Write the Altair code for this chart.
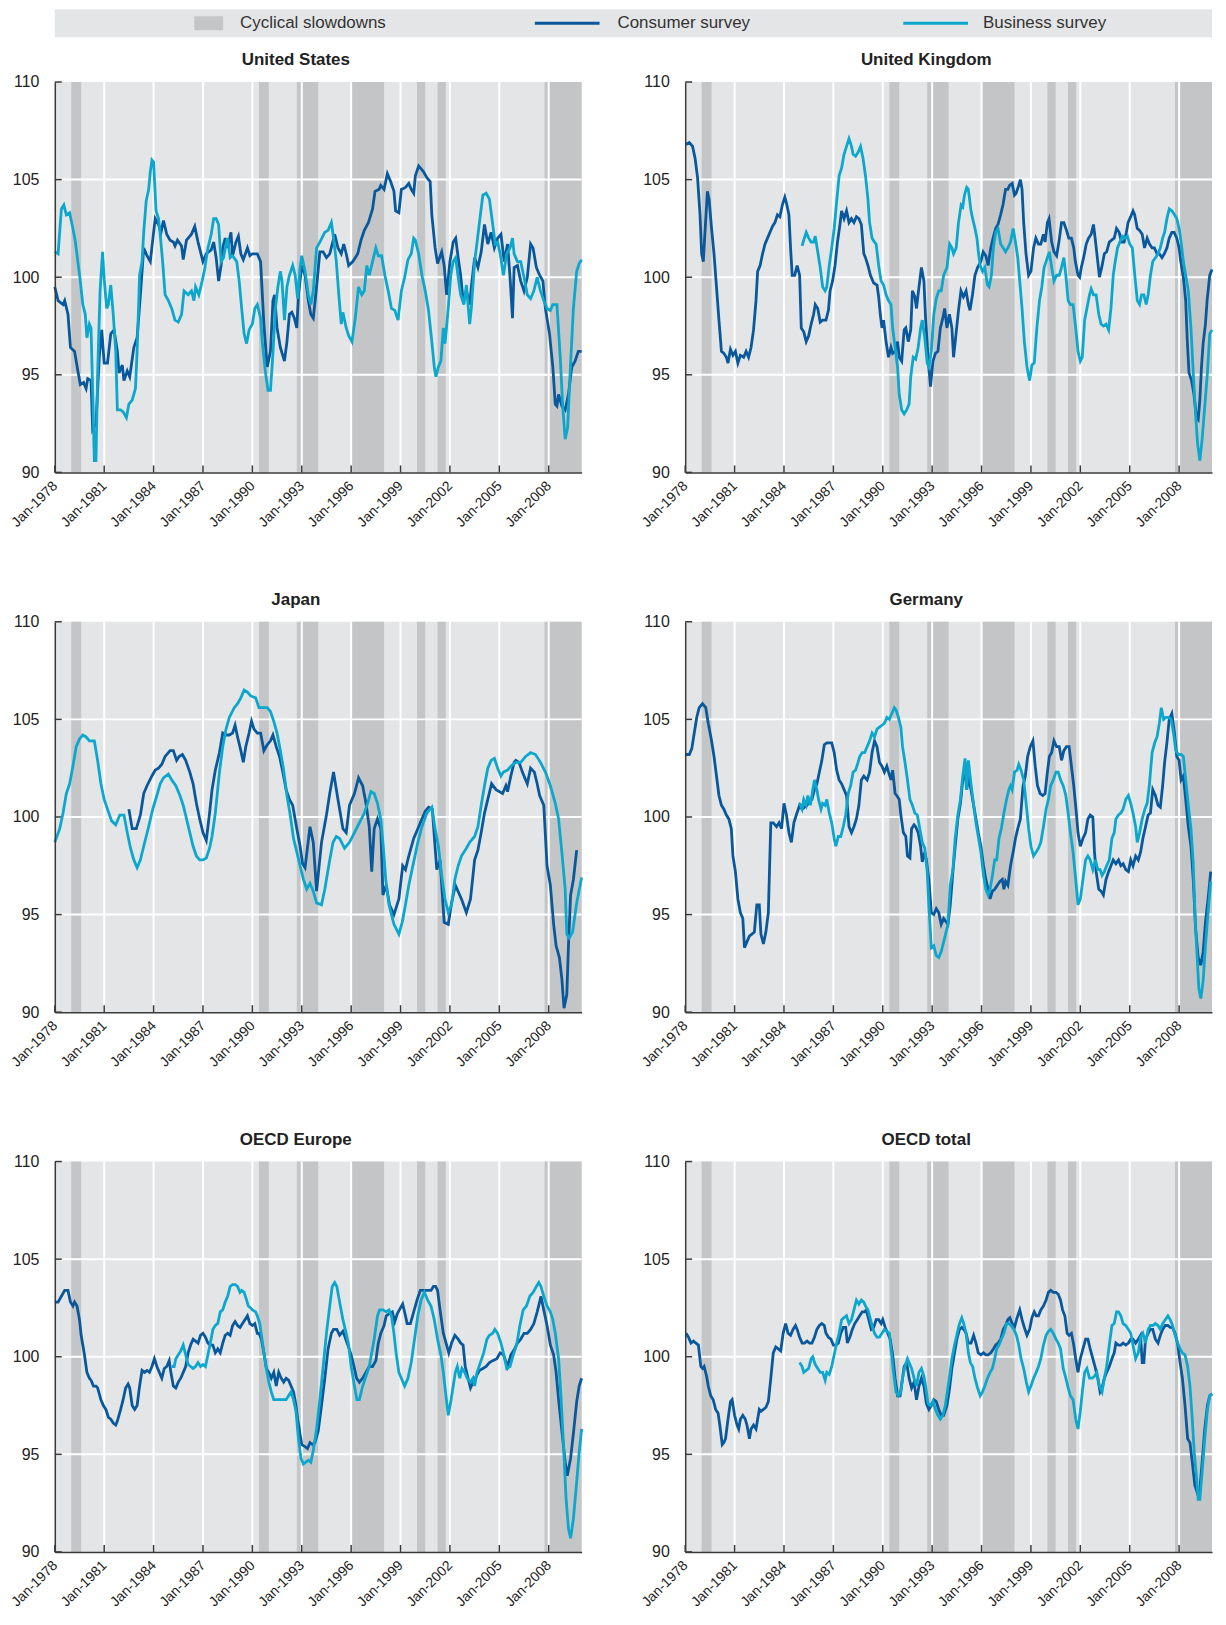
import altair as alt
import pandas as pd

# ---------------- data ----------------
SERIES = ["Consumer survey", "Business survey"]
PANELS = ["United States", "United Kingdom", "Japan", "Germany", "OECD Europe", "OECD total"]
SLOW_START = [1979.0, 1990.4, 1992.7, 1996.05, 2000.0, 2001.25, 2007.75]
SLOW_END = [1979.6, 1991.0, 1994.0, 1998.0, 2000.5, 2001.75, 2010.0]
X_TICKS = [1978, 1981, 1984, 1987, 1990, 1993, 1996, 1999, 2002, 2005, 2008]
Y_TICKS = [90, 95, 100, 105, 110]
Y_GRID = [95, 100, 105]

US_CONS = [(1978.0,99.5),(1978.2,98.8),(1978.5,98.6),(1978.6,98.8),(1978.8,98.1),(1978.95,96.4),(1979.2,96.2),(1979.4,95.2),(1979.55,94.5),(1979.75,94.6),(1979.9,94.3),(1980.0,94.8),(1980.2,94.7),(1980.3,92.2),(1980.5,92.5),(1980.7,95.9),(1980.85,97.3),(1981.0,95.6),(1981.2,95.6),(1981.4,97.1),(1981.6,97.3),(1981.8,96.2),(1981.9,95.1),(1982.1,95.5),(1982.2,94.7),(1982.4,95.2),(1982.55,94.9),(1982.8,96.4),(1983.0,96.9),(1983.2,99.1),(1983.4,101.5),(1983.6,101.1),(1983.8,100.8),(1984.0,102.3),(1984.1,103.0),(1984.3,102.7),(1984.45,102.3),(1984.6,102.9),(1984.8,102.2),(1985.0,101.9),(1985.2,101.8),(1985.3,101.6),(1985.45,101.9),(1985.7,101.6),(1985.8,100.9),(1986.0,101.9),(1986.3,102.2),(1986.5,102.6),(1986.7,101.8),(1987.0,100.8),(1987.2,101.2),(1987.5,101.4),(1987.65,101.8),(1987.8,101.0),(1987.95,99.8),(1988.1,100.6),(1988.2,101.5),(1988.35,102.0),(1988.5,101.5),(1988.7,102.3),(1988.8,101.1),(1989.0,101.8),(1989.15,102.1),(1989.3,101.2),(1989.45,100.9),(1989.7,101.5),(1989.85,101.1),(1990.0,101.2),(1990.3,101.2),(1990.5,100.8),(1990.7,97.6),(1990.9,95.4),(1991.1,96.2),(1991.25,98.8),(1991.35,99.1),(1991.5,97.4),(1991.7,96.4),(1991.95,95.7),(1992.1,96.7),(1992.25,98.1),(1992.4,98.2),(1992.55,97.9),(1992.7,97.4),(1992.8,99.1),(1993.0,100.6),(1993.2,100.1),(1993.4,98.8),(1993.55,98.1),(1993.7,97.9),
           (1993.9,99.5),(1994.1,101.3),(1994.3,101.3),(1994.5,101.0),(1994.7,101.2),(1994.85,101.7),(1995.0,102.2),(1995.2,101.5),(1995.4,101.2),(1995.55,101.7),(1995.7,101.2),(1995.85,100.6),(1996.1,100.8),(1996.4,101.2),(1996.6,101.9),(1996.8,102.4),(1997.05,102.8),(1997.3,103.5),(1997.45,104.4),(1997.7,104.5),(1997.8,104.7),(1998.0,104.5),(1998.2,105.3),(1998.4,104.9),(1998.6,104.4),(1998.7,103.4),(1998.9,103.3),(1999.05,104.5),(1999.3,104.6),(1999.5,104.8),(1999.65,104.5),(1999.8,104.3),(1999.9,105.2),(2000.1,105.7),(2000.4,105.4),(2000.6,105.1),(2000.8,104.9),(2000.9,103.2),(2001.1,101.5),(2001.25,100.7),(2001.5,101.3),(2001.65,100.6),(2001.8,99.1),(2002.0,100.8),(2002.2,101.8),(2002.35,102.0),(2002.5,101.0),(2002.65,100.1),(2002.8,98.8),(2003.0,99.3),(2003.2,98.6),(2003.3,99.5),(2003.5,101.0),(2003.7,100.5),(2003.9,101.3),(2004.1,102.7),(2004.3,101.7),(2004.5,102.3),(2004.7,101.5),(2004.9,102.0),(2005.1,102.2),(2005.3,100.8),(2005.5,101.7),(2005.65,100.0),(2005.8,97.9),(2005.9,100.5),(2006.1,100.6),(2006.3,99.8),(2006.5,99.3),(2006.7,100.0),(2006.9,101.7),(2007.05,101.5),(2007.25,100.5),(2007.45,100.1),(2007.65,99.8),(2007.8,98.4),(2008.05,97.1),(2008.25,95.4),(2008.4,93.5),(2008.5,93.4),(2008.6,94.0),(2008.8,93.4),(2009.0,93.2),(2009.2,94.0),(2009.4,95.4),(2009.6,95.7),(2009.8,96.2),(2010.0,96.2)]

US_BUS = [(1978.0,101.3),(1978.2,101.2),(1978.4,103.5),(1978.55,103.7),(1978.7,103.2),(1978.9,103.3),(1979.1,102.5),(1979.25,101.8),(1979.4,100.8),(1979.55,99.8),(1979.7,98.6),(1979.85,98.1),(1979.95,96.9),(1980.1,97.6),(1980.2,97.4),(1980.3,94.2),(1980.4,90.6),(1980.5,90.6),(1980.6,95.0),(1980.75,99.3),(1980.9,101.3),(1981.0,99.9),(1981.15,98.4),(1981.25,98.6),(1981.4,99.6),(1981.55,98.1),(1981.7,96.2),(1981.8,93.2),(1982.0,93.2),(1982.15,93.1),(1982.35,92.8),(1982.5,93.5),(1982.7,93.7),(1982.9,94.3),(1983.0,96.2),(1983.15,100.1),(1983.3,100.8),(1983.4,102.3),(1983.55,103.9),(1983.7,104.5),(1983.8,105.4),(1983.9,106.0),(1984.0,105.9),(1984.15,103.4),(1984.3,103.0),(1984.4,102.2),(1984.55,100.8),(1984.7,99.1),(1984.9,98.8),(1985.1,98.4),(1985.3,97.8),(1985.5,97.7),(1985.7,98.1),(1985.85,99.3),(1986.1,99.1),(1986.3,99.3),(1986.45,98.8),(1986.55,99.5),(1986.75,99.1),(1986.95,99.8),(1987.1,100.4),(1987.3,101.5),(1987.5,102.2),(1987.65,103.0),(1987.8,103.0),(1987.95,102.7),(1988.1,100.8),(1988.25,101.0),(1988.4,101.7),(1988.5,102.0),(1988.65,101.0),(1988.8,101.1),(1989.05,100.8),(1989.2,99.8),(1989.35,98.4),(1989.5,97.1),(1989.65,96.6),(1989.8,97.3),(1990.0,97.6),(1990.15,98.4),(1990.3,98.6),(1990.5,97.9),(1990.6,96.7),(1990.8,95.1),(1990.95,94.2),(1991.1,94.2),(1991.25,96.1),(1991.4,98.4),(1991.55,99.5),(1991.7,100.3),(1991.8,99.8),(1991.95,97.8),(1992.1,99.5),(1992.25,100.1),(1992.45,100.6),(1992.6,100.1),(1992.75,98.9),(1992.9,100.5),(1993.0,101.1),(1993.2,100.3),(1993.4,99.1),(1993.55,98.6),(1993.7,99.3),
          (1993.9,101.5),(1994.1,101.8),(1994.4,102.3),(1994.6,102.4),(1994.8,102.8),(1994.9,102.2),(1995.1,100.8),(1995.25,99.1),(1995.4,97.6),(1995.5,98.2),(1995.7,97.4),(1995.85,97.0),(1996.05,96.7),(1996.25,97.9),(1996.45,99.5),(1996.65,99.1),(1996.8,99.3),(1996.95,100.6),(1997.1,100.1),(1997.3,100.8),(1997.5,101.5),(1997.65,101.1),(1997.85,101.1),(1998.05,100.1),(1998.25,99.3),(1998.45,98.4),(1998.65,98.3),(1998.85,97.8),(1999.05,99.3),(1999.25,100.0),(1999.45,100.9),(1999.65,101.2),(1999.8,102.0),(1999.9,101.9),(2000.1,101.2),(2000.3,100.1),(2000.5,99.3),(2000.7,98.3),(2000.9,96.7),(2001.05,95.4),(2001.15,94.9),(2001.3,95.4),(2001.45,95.7),(2001.6,97.4),(2001.7,96.6),(2001.9,98.4),(2002.05,100.1),(2002.2,100.8),(2002.35,101.0),(2002.5,100.0),(2002.65,99.1),(2002.85,98.6),(2003.0,99.6),(2003.2,97.6),(2003.3,98.4),(2003.5,100.8),(2003.65,101.8),(2003.85,103.2),(2004.0,104.2),(2004.2,104.3),(2004.4,104.0),(2004.6,102.7),(2004.75,101.7),(2004.9,101.8),(2005.05,101.2),(2005.25,100.1),(2005.45,101.2),(2005.65,101.5),(2005.8,102.0),(2005.9,101.2),(2006.1,100.8),(2006.3,100.8),(2006.5,100.0),(2006.7,99.1),(2006.9,98.9),(2007.1,99.3),(2007.3,100.0),(2007.5,99.3),(2007.7,98.8),(2007.9,98.4),(2008.1,98.3),(2008.25,98.6),(2008.4,98.6),(2008.5,98.6),(2008.7,95.9),(2008.85,93.4),(2009.0,91.7),(2009.15,92.3),(2009.3,95.1),(2009.5,98.4),(2009.7,100.3),(2009.85,100.7),(2010.0,100.9)]

UK_CONS = [(1978.05,106.8),(1978.25,106.9),(1978.45,106.7),(1978.6,106.1),(1978.75,105.1),(1978.9,103.2),(1979.0,101.2),(1979.1,100.8),(1979.2,102.3),(1979.35,104.4),(1979.45,104.0),(1979.6,102.5),(1979.75,101.2),(1979.9,99.5),(1980.05,97.8),(1980.2,96.2),(1980.35,96.1),(1980.5,95.9),(1980.6,95.6),(1980.75,96.3),(1980.9,96.0),(1981.05,96.2),(1981.2,95.6),(1981.35,96.0),(1981.55,95.9),(1981.7,96.2),(1981.85,95.9),(1982.0,96.4),(1982.15,97.3),(1982.3,98.8),(1982.4,100.3),(1982.55,100.6),(1982.7,101.2),(1982.85,101.7),(1983.0,102.0),(1983.15,102.3),(1983.3,102.6),(1983.45,102.8),(1983.6,103.2),(1983.75,103.1),(1983.9,103.7),(1984.05,104.1),(1984.15,103.8),(1984.3,103.2),(1984.4,101.5),(1984.5,100.1),(1984.65,100.1),(1984.8,100.6),(1984.95,100.1),(1985.05,97.4),(1985.2,97.2),(1985.35,96.7),(1985.5,97.0),(1985.65,97.6),(1985.8,98.1),(1985.9,98.6),(1986.05,98.4),(1986.2,97.7),(1986.35,97.8),(1986.55,97.8),(1986.7,98.3),(1986.8,99.3),(1986.95,99.8),(1987.1,100.6),(1987.25,101.8),(1987.4,102.7),(1987.5,103.4),(1987.65,103.0),(1987.8,103.4),(1987.95,102.8),(1988.1,103.0),(1988.25,102.8),(1988.4,103.1),(1988.55,103.0),(1988.7,102.7),(1988.85,101.2),(1988.95,101.0),(1989.1,100.6),(1989.25,100.1),(1989.45,99.7),(1989.65,99.6),(1989.75,99.0),(1989.85,98.1),(1989.95,97.4),(1990.05,97.8),(1990.2,96.7),(1990.35,95.9),(1990.5,96.4),(1990.6,96.1),(1990.75,96.2),(1990.9,96.7),(1991.0,95.9),(1991.15,95.7),(1991.3,97.3),(1991.4,97.4),(1991.55,96.7),(1991.7,97.3),(1991.8,99.3),(1991.95,99.0),(1992.05,98.4),(1992.2,99.5),(1992.35,100.5),(1992.5,99.8),(1992.6,97.9),(1992.75,95.9),(1992.9,94.4),(1993.05,95.7),(1993.2,96.1),(1993.35,96.2),(1993.5,97.4),(1993.65,97.9),
           (1993.76,98.4),(1993.9,97.4),(1994.05,98.1),(1994.2,97.4),(1994.3,95.9),(1994.45,97.1),(1994.6,98.3),(1994.75,99.3),(1994.9,99.0),(1995.06,99.3),(1995.2,98.6),(1995.3,98.3),(1995.45,99.1),(1995.6,100.1),(1995.76,100.5),(1995.96,100.8),(1996.1,101.3),(1996.26,101.1),(1996.4,100.6),(1996.56,101.5),(1996.7,102.0),(1996.86,102.5),(1997.0,102.7),(1997.16,103.2),(1997.3,103.7),(1997.46,104.5),(1997.6,104.5),(1997.7,104.7),(1997.86,104.8),(1998.0,104.2),(1998.1,104.3),(1998.26,104.7),(1998.36,105.0),(1998.46,104.5),(1998.56,102.8),(1998.7,101.2),(1998.86,100.1),(1999.0,100.3),(1999.16,101.5),(1999.3,102.0),(1999.46,101.7),(1999.6,101.7),(1999.76,102.2),(1999.86,101.8),(2000.0,102.8),(2000.1,103.0),(2000.26,101.8),(2000.4,101.3),(2000.56,101.1),(2000.7,101.8),(2000.86,102.8),(2001.0,102.8),(2001.16,102.4),(2001.3,102.0),(2001.46,102.0),(2001.6,101.5),(2001.7,100.8),(2001.86,100.1),(2001.96,100.0),(2002.06,100.5),(2002.2,101.0),(2002.36,101.7),(2002.5,102.0),(2002.66,102.2),(2002.8,102.7),(2002.9,102.0),(2003.06,100.8),(2003.16,100.0),(2003.3,100.5),(2003.46,101.2),(2003.6,101.3),(2003.76,101.8),(2003.9,101.9),(2004.06,102.0),(2004.2,102.5),(2004.36,102.3),(2004.5,101.8),(2004.66,101.8),(2004.8,102.3),(2004.9,102.8),(2005.06,103.1),(2005.2,103.4),(2005.3,103.2),(2005.46,102.5),(2005.6,102.4),(2005.76,102.2),(2005.9,101.5),(2006.06,102.0),(2006.2,101.7),(2006.36,101.5),(2006.5,101.5),(2006.66,101.2),(2006.8,101.2),(2006.96,101.0),(2007.1,101.2),(2007.26,101.5),(2007.4,102.0),(2007.56,102.3),(2007.7,102.3),(2007.86,102.0),(2008.0,101.5),(2008.1,100.8),(2008.26,100.0),(2008.4,98.8),(2008.5,96.7),(2008.6,95.1),(2008.76,94.7),(2008.9,94.0),(2009.06,92.8),(2009.16,92.7),(2009.26,93.7),(2009.36,95.4),(2009.46,96.6),(2009.6,97.6),(2009.7,98.8),(2009.86,100.1),(2010.0,100.4)]

UK_BUS = [(1985.1,101.6),(1985.2,101.9),(1985.35,102.3),(1985.5,102.0),(1985.65,101.8),(1985.8,101.8),(1985.9,102.1),(1986.05,101.3),(1986.2,100.5),(1986.35,99.5),(1986.5,99.3),(1986.6,99.5),(1986.75,100.6),(1986.9,101.5),(1987.05,102.5),(1987.2,103.9),(1987.35,105.2),(1987.5,105.6),(1987.65,106.3),(1987.8,106.7),(1987.95,107.1),(1988.1,106.7),(1988.2,106.3),(1988.35,106.2),(1988.5,106.4),(1988.65,106.7),(1988.8,106.1),(1988.95,105.2),(1989.1,104.0),(1989.2,102.8),(1989.35,102.0),(1989.5,101.8),(1989.6,101.7),(1989.75,100.6),(1989.9,99.8),(1990.05,99.6),(1990.2,99.1),(1990.35,98.8),(1990.5,98.6),(1990.6,97.4),(1990.75,96.4),(1990.9,95.4),(1991.0,94.0),(1991.15,93.2),(1991.3,93.0),(1991.45,93.2),(1991.6,93.5),(1991.7,94.9),(1991.85,95.9),(1992.0,95.8),(1992.15,96.4),(1992.3,97.4),(1992.4,97.8),(1992.55,96.9),(1992.7,95.6),(1992.8,95.4),(1992.95,96.2),(1993.1,98.1),(1993.25,98.9),(1993.4,99.3),(1993.55,99.3),(1993.7,100.1),
          (1993.9,100.5),(1994.06,101.7),(1994.2,101.5),(1994.3,101.2),(1994.46,101.5),(1994.6,102.8),(1994.76,103.7),(1994.86,103.6),(1994.96,104.2),(1995.1,104.6),(1995.2,104.5),(1995.36,103.4),(1995.46,103.0),(1995.6,102.5),(1995.72,102.0),(1995.82,101.2),(1995.92,100.6),(1996.06,100.3),(1996.2,100.5),(1996.36,99.6),(1996.46,99.5),(1996.6,100.1),(1996.72,101.5),(1996.86,102.3),(1997.0,102.5),(1997.16,101.7),(1997.32,101.5),(1997.46,101.3),(1997.6,101.5),(1997.76,101.8),(1997.92,102.5),(1998.06,101.8),(1998.2,101.0),(1998.32,99.8),(1998.46,98.4),(1998.6,96.7),(1998.76,95.4),(1998.92,94.7),(1999.06,95.5),(1999.2,95.6),(1999.36,97.4),(1999.52,98.8),(1999.66,99.5),(1999.8,100.5),(1999.96,100.9),(2000.12,101.3),(2000.26,100.5),(2000.4,99.8),(2000.56,100.1),(2000.72,100.1),(2000.86,100.5),(2001.0,101.0),(2001.12,100.1),(2001.26,98.8),(2001.4,98.6),(2001.56,98.6),(2001.72,97.4),(2001.86,96.2),(2002.0,95.7),(2002.12,95.9),(2002.26,97.8),(2002.4,98.4),(2002.56,99.1),(2002.66,99.4),(2002.8,99.1),(2002.96,99.1),(2003.12,98.1),(2003.26,97.6),(2003.4,97.5),(2003.56,97.6),(2003.72,97.3),(2003.86,98.4),(2004.0,100.1),(2004.12,100.8),(2004.26,101.5),(2004.4,101.8),(2004.56,102.1),(2004.72,102.0),(2004.86,102.1),(2005.0,101.7),(2005.16,101.5),(2005.32,100.0),(2005.46,98.8),(2005.6,98.6),(2005.72,99.1),(2005.86,99.1),(2006.0,98.6),(2006.12,99.1),(2006.26,100.1),(2006.4,100.8),(2006.56,101.0),(2006.72,101.2),(2006.86,101.5),(2007.0,102.0),(2007.12,102.3),(2007.26,103.0),(2007.4,103.5),(2007.56,103.4),(2007.72,103.2),(2007.86,103.0),(2008.0,102.5),(2008.12,101.8),(2008.26,100.8),(2008.4,100.1),(2008.56,99.3),(2008.72,97.4),(2008.86,95.1),(2009.0,93.0),(2009.12,91.5),(2009.26,90.6),(2009.4,91.7),(2009.56,93.4),(2009.72,95.1),(2009.86,97.1),(2010.0,97.3)]

JP_CONS = [(1982.5,100.4),(1982.7,99.4),(1982.95,99.4),(1983.2,100.1),(1983.4,101.2),(1983.6,101.6),(1983.9,102.1),(1984.1,102.4),(1984.3,102.5),(1984.5,102.7),(1984.7,103.1),(1984.9,103.3),(1985.0,103.4),(1985.2,103.4),(1985.4,102.9),(1985.55,103.1),(1985.75,103.2),(1985.95,102.9),(1986.2,102.3),(1986.4,101.7),(1986.6,100.7),(1986.8,99.9),(1987.0,99.2),(1987.2,98.8),(1987.4,100.2),(1987.55,101.4),(1987.75,102.4),(1988.0,103.3),(1988.2,104.3),(1988.4,104.2),(1988.6,104.2),(1988.8,104.3),(1988.95,104.7),(1989.1,104.1),(1989.3,103.4),(1989.45,102.8),(1989.6,103.6),(1989.8,104.3),(1989.95,104.9),(1990.1,104.5),(1990.3,104.3),(1990.5,104.3),(1990.7,103.4),(1990.9,103.7),(1991.1,103.9),(1991.25,104.2),(1991.45,103.6),(1991.65,103.1),(1991.85,102.3),(1992.05,101.4),(1992.25,100.9),(1992.45,100.6),(1992.7,99.4),(1992.9,98.5),(1993.05,97.6),(1993.2,97.4),(1993.5,99.5),(1993.7,98.7),
           (1993.9,96.2),(1994.2,98.7),(1994.5,100.1),(1994.7,101.2),(1994.93,102.3),(1995.2,100.9),(1995.5,99.4),(1995.7,99.2),(1995.9,100.6),(1996.2,101.2),(1996.45,102.0),(1996.7,101.6),(1996.9,100.7),(1997.1,99.5),(1997.25,97.2),(1997.4,99.4),(1997.6,99.9),(1997.8,99.4),(1997.93,96.0),(1998.13,96.5),(1998.33,95.5),(1998.6,95.0),(1998.9,95.8),(1999.13,97.5),(1999.3,97.3),(1999.5,98.0),(1999.8,98.9),(2000.1,99.5),(2000.5,100.3),(2000.7,100.5),(2000.93,100.4),(2001.2,97.3),(2001.4,97.8),(2001.65,94.6),(2001.9,94.5),(2002.1,95.6),(2002.33,96.5),(2002.7,95.8),(2003.0,95.1),(2003.25,95.8),(2003.5,97.8),(2003.7,98.3),(2003.9,99.2),(2004.1,100.2),(2004.3,100.9),(2004.53,101.7),(2004.8,101.4),(2005.0,101.3),(2005.2,101.2),(2005.4,101.6),(2005.5,101.3),(2005.7,102.1),(2005.9,102.8),(2006.0,102.9),(2006.2,102.8),(2006.4,102.3),(2006.7,101.7),(2006.9,102.5),(2007.13,102.3),(2007.3,101.7),(2007.45,101.1),(2007.7,100.6),(2007.9,97.5),(2008.1,96.5),(2008.3,94.5),(2008.45,93.4),(2008.65,92.8),(2008.8,91.7),(2008.93,90.2),(2009.1,90.9),(2009.2,93.4),(2009.33,96.0),(2009.5,96.8),(2009.7,98.3)]

JP_BUS = [(1978.0,98.7),(1978.3,99.4),(1978.5,100.2),(1978.7,101.2),(1978.9,101.7),(1979.1,102.6),(1979.3,103.6),(1979.5,104.0),(1979.7,104.2),(1979.9,104.1),(1980.1,103.9),(1980.4,103.9),(1980.6,102.9),(1980.8,101.7),(1981.0,100.9),(1981.2,100.4),(1981.45,99.8),(1981.7,99.6),(1981.95,100.1),(1982.2,100.1),(1982.4,99.2),(1982.6,98.4),(1982.8,97.8),(1983.0,97.4),(1983.2,97.8),(1983.4,98.5),(1983.7,99.5),(1983.95,100.4),(1984.2,101.1),(1984.4,101.7),(1984.6,102.0),(1984.9,102.2),(1985.1,101.9),(1985.35,101.6),(1985.6,101.1),(1985.8,100.6),(1986.0,99.9),(1986.2,99.2),(1986.4,98.5),(1986.6,98.0),(1986.8,97.8),(1987.0,97.8),(1987.2,97.9),(1987.4,98.4),(1987.55,99.0),(1987.75,100.2),(1988.0,102.3),(1988.2,103.6),(1988.4,104.5),(1988.6,105.1),(1988.9,105.6),(1989.1,105.8),(1989.3,106.1),(1989.5,106.5),(1989.7,106.4),(1989.9,106.2),(1990.2,106.1),(1990.4,105.6),(1990.6,105.6),(1990.9,105.6),(1991.1,105.4),(1991.3,104.9),(1991.5,104.3),(1991.7,103.4),(1991.9,102.4),(1992.1,101.1),(1992.3,100.1),(1992.5,98.9),(1992.7,98.2),(1992.9,97.5),(1993.1,96.8),(1993.3,96.3),(1993.5,96.6),(1993.7,96.2),
          (1993.9,95.6),(1994.2,95.5),(1994.4,96.3),(1994.7,97.8),(1994.9,98.7),(1995.1,99.0),(1995.3,98.9),(1995.6,98.4),(1995.9,98.7),(1996.2,99.2),(1996.5,99.7),(1996.8,100.2),(1997.0,100.7),(1997.2,101.3),(1997.4,101.2),(1997.6,100.7),(1997.8,99.9),(1997.95,98.5),(1998.1,96.8),(1998.3,95.5),(1998.6,94.5),(1998.9,94.0),(1999.1,94.6),(1999.3,95.5),(1999.5,96.5),(1999.8,97.7),(2000.05,98.7),(2000.3,99.5),(2000.6,100.2),(2000.8,100.4),(2000.9,100.5),(2001.1,99.4),(2001.3,98.5),(2001.5,97.0),(2001.7,95.8),(2001.9,95.1),(2002.1,95.5),(2002.3,96.8),(2002.5,97.5),(2002.7,98.0),(2003.0,98.4),(2003.2,98.7),(2003.5,99.0),(2003.7,99.5),(2003.9,100.6),(2004.1,101.6),(2004.3,102.5),(2004.5,102.9),(2004.7,103.0),(2004.9,102.5),(2005.1,102.1),(2005.25,102.3),(2005.5,102.4),(2005.7,102.6),(2006.0,102.8),(2006.3,102.8),(2006.6,103.1),(2006.9,103.3),(2007.2,103.2),(2007.5,102.8),(2007.8,102.3),(2008.1,101.6),(2008.4,100.7),(2008.6,99.9),(2008.8,98.2),(2009.0,96.3),(2009.1,94.0),(2009.25,93.8),(2009.45,94.1),(2009.7,95.6),(2010.0,96.9)]

DE_CONS = [(1978.05,103.2),(1978.25,103.2),(1978.4,103.5),(1978.55,104.3),(1978.7,105.1),(1978.85,105.6),(1979.05,105.8),(1979.25,105.6),(1979.4,104.8),(1979.6,103.9),(1979.75,103.1),(1979.9,102.1),(1980.05,101.1),(1980.2,100.6),(1980.35,100.4),(1980.5,100.1),(1980.65,99.9),(1980.8,99.4),(1980.9,98.0),(1981.05,97.2),(1981.2,95.8),(1981.35,95.1),(1981.5,94.8),(1981.6,93.3),(1981.75,93.6),(1981.9,93.9),(1982.05,94.0),(1982.2,94.1),(1982.35,95.5),(1982.5,95.5),(1982.6,94.0),(1982.75,93.5),(1982.9,94.1),(1983.05,95.1),(1983.2,99.7),(1983.35,99.7),(1983.55,99.5),(1983.7,99.7),(1983.85,99.4),(1984.0,100.7),(1984.15,100.1),(1984.3,99.2),(1984.45,98.7),(1984.6,99.7),(1984.75,100.1),(1984.95,100.6),(1985.1,100.4),(1985.25,100.5),(1985.4,100.6),(1985.55,100.9),(1985.7,100.9),(1985.85,101.4),(1986.0,101.7),(1986.15,102.3),(1986.3,102.9),(1986.45,103.7),(1986.6,103.8),(1986.75,103.8),(1986.9,103.8),(1987.05,103.3),(1987.2,102.4),(1987.35,101.9),(1987.5,101.7),(1987.65,101.4),(1987.8,101.1),(1987.95,99.5),(1988.1,99.2),(1988.25,99.5),(1988.4,99.9),(1988.55,100.6),(1988.7,101.9),(1988.85,102.1),(1989.05,101.9),(1989.2,102.3),(1989.35,103.3),(1989.5,103.9),(1989.65,103.6),(1989.8,102.8),(1989.95,102.6),(1990.1,102.3),(1990.25,102.6),(1990.35,102.3),(1990.5,101.9),(1990.6,102.4),(1990.75,101.2),(1990.85,101.1),(1991.0,100.9),(1991.1,100.1),(1991.25,99.2),(1991.4,99.0),(1991.5,98.0),(1991.65,97.9),(1991.75,99.4),(1991.9,99.6),(1992.0,99.5),(1992.15,99.2),(1992.3,98.5),(1992.4,97.7),(1992.55,98.2),(1992.65,97.8),(1992.8,96.8),(1992.95,95.1),(1993.1,95.0),(1993.25,95.3),(1993.4,95.1),(1993.55,94.5),(1993.7,94.8),
           (1993.96,94.5),(1994.1,95.5),(1994.26,97.2),(1994.4,98.5),(1994.56,99.9),(1994.72,100.7),(1994.86,101.9),(1995.0,102.3),(1995.1,101.4),(1995.2,102.1),(1995.36,101.4),(1995.52,100.6),(1995.66,99.9),(1995.8,99.2),(1995.96,98.5),(1996.12,97.5),(1996.26,96.8),(1996.4,96.3),(1996.52,95.8),(1996.66,96.2),(1996.8,96.3),(1996.96,96.5),(1997.12,96.7),(1997.26,96.8),(1997.36,96.3),(1997.46,96.7),(1997.6,96.5),(1997.76,97.5),(1997.92,98.2),(1998.06,98.9),(1998.2,99.4),(1998.36,99.9),(1998.52,101.6),(1998.66,102.1),(1998.8,103.1),(1998.96,103.6),(1999.12,103.9),(1999.26,102.6),(1999.4,101.6),(1999.56,101.2),(1999.72,101.1),(1999.86,101.2),(2000.0,102.3),(2000.12,103.1),(2000.26,103.3),(2000.4,103.9),(2000.56,103.6),(2000.72,103.6),(2000.86,102.9),(2001.0,103.4),(2001.16,103.6),(2001.32,103.6),(2001.46,102.6),(2001.6,101.6),(2001.76,100.2),(2001.86,99.2),(2002.0,98.5),(2002.16,98.9),(2002.32,99.2),(2002.46,99.9),(2002.6,100.1),(2002.76,100.0),(2002.86,98.2),(2002.96,97.2),(2003.12,96.3),(2003.26,96.2),(2003.4,96.0),(2003.56,96.8),(2003.72,97.2),(2003.86,97.5),(2004.0,97.8),(2004.16,97.6),(2004.32,97.8),(2004.46,97.5),(2004.6,97.6),(2004.76,97.3),(2004.92,97.2),(2005.06,97.8),(2005.2,97.5),(2005.36,98.0),(2005.52,97.8),(2005.66,98.2),(2005.8,98.9),(2005.96,99.5),(2006.12,100.1),(2006.26,100.2),(2006.4,101.4),(2006.56,101.1),(2006.72,100.6),(2006.86,100.5),(2007.0,101.6),(2007.12,102.8),(2007.26,103.8),(2007.4,105.0),(2007.56,105.3),(2007.72,104.3),(2007.86,103.1),(2008.0,102.9),(2008.12,101.9),(2008.26,102.1),(2008.4,100.9),(2008.56,99.5),(2008.72,98.5),(2008.86,96.8),(2009.0,94.3),(2009.16,92.8),(2009.32,92.4),(2009.46,93.1),(2009.6,94.6),(2009.76,95.8),(2009.92,97.2)]

DE_BUS = [(1984.95,100.7),(1985.1,100.4),(1985.2,100.9),(1985.35,100.6),(1985.45,101.1),(1985.6,100.6),(1985.75,101.4),(1985.85,101.9),(1986.0,101.4),(1986.1,100.9),(1986.25,100.4),(1986.35,100.7),(1986.5,100.6),(1986.6,100.9),(1986.75,100.2),(1986.9,99.7),(1987.05,98.9),(1987.15,98.5),(1987.3,99.0),(1987.45,99.0),(1987.6,99.5),(1987.75,100.1),(1987.9,101.2),(1988.05,101.6),(1988.2,102.3),(1988.35,102.4),(1988.5,102.8),(1988.6,103.1),(1988.75,103.3),(1988.9,103.3),(1989.05,103.6),(1989.2,103.9),(1989.35,104.3),(1989.5,104.1),(1989.65,104.5),(1989.8,104.6),(1989.95,104.7),(1990.1,104.8),(1990.25,105.1),(1990.4,105.0),(1990.55,105.3),(1990.7,105.6),(1990.8,105.5),(1990.95,105.1),(1991.1,104.6),(1991.2,103.6),(1991.35,102.8),(1991.5,101.9),(1991.65,100.9),(1991.8,100.6),(1991.95,100.2),(1992.1,100.1),(1992.25,99.4),(1992.4,98.7),(1992.55,98.4),(1992.7,97.2),(1992.8,95.5),(1992.95,93.3),(1993.1,93.4),(1993.25,92.9),(1993.4,92.8),(1993.55,93.1),(1993.7,93.6),
          (1993.96,94.5),(1994.1,96.5),(1994.26,97.3),(1994.4,98.9),(1994.56,100.1),(1994.72,100.9),(1994.86,102.1),(1995.0,103.0),(1995.1,101.4),(1995.2,102.9),(1995.36,101.7),(1995.52,100.6),(1995.66,99.7),(1995.8,99.0),(1995.96,98.2),(1996.12,97.0),(1996.26,96.3),(1996.4,96.0),(1996.52,96.3),(1996.66,97.0),(1996.8,97.8),(1996.92,97.8),(1997.06,98.9),(1997.2,99.4),(1997.36,100.2),(1997.52,100.9),(1997.66,101.4),(1997.76,101.6),(1997.86,101.4),(1998.0,102.3),(1998.16,102.4),(1998.26,102.7),(1998.4,102.4),(1998.56,101.9),(1998.72,100.6),(1998.86,99.4),(1999.0,98.5),(1999.16,98.0),(1999.32,98.2),(1999.46,98.4),(1999.6,98.7),(1999.76,99.5),(1999.92,100.4),(2000.06,100.9),(2000.2,101.6),(2000.36,101.9),(2000.52,102.3),(2000.66,102.3),(2000.8,101.9),(2000.96,101.6),(2001.12,101.1),(2001.26,100.2),(2001.4,99.2),(2001.56,98.2),(2001.72,96.8),(2001.86,95.5),(2002.0,95.8),(2002.16,96.8),(2002.32,97.8),(2002.46,98.0),(2002.6,97.8),(2002.76,97.3),(2002.92,97.8),(2003.06,97.3),(2003.2,97.3),(2003.32,97.0),(2003.46,97.2),(2003.6,97.5),(2003.76,97.8),(2003.92,98.9),(2004.06,99.2),(2004.16,99.9),(2004.32,100.1),(2004.46,100.2),(2004.6,100.4),(2004.76,100.9),(2004.92,101.1),(2005.06,100.7),(2005.2,100.2),(2005.36,99.5),(2005.46,98.7),(2005.6,99.2),(2005.76,99.9),(2005.92,100.4),(2006.06,100.7),(2006.2,101.7),(2006.36,103.3),(2006.52,103.8),(2006.66,104.1),(2006.8,104.8),(2006.92,105.6),(2007.06,105.0),(2007.2,105.1),(2007.36,105.1),(2007.52,105.0),(2007.66,104.3),(2007.8,103.4),(2007.96,103.2),(2008.12,103.2),(2008.26,103.1),(2008.4,101.9),(2008.56,100.6),(2008.72,99.4),(2008.86,97.6),(2008.96,95.1),(2009.06,93.4),(2009.2,91.2),(2009.32,90.7),(2009.46,91.6),(2009.6,93.4),(2009.76,95.1),(2009.92,96.7)]

EU_CONS = [(1978.0,102.8),(1978.2,102.8),(1978.4,103.1),(1978.6,103.4),(1978.8,103.4),(1978.95,102.8),(1979.1,102.6),(1979.2,102.8),(1979.35,102.6),(1979.5,101.9),(1979.6,101.1),(1979.8,100.1),(1979.95,99.2),(1980.1,98.9),(1980.2,98.8),(1980.35,98.5),(1980.5,98.5),(1980.6,98.4),(1980.8,97.8),(1980.95,97.5),(1981.1,97.3),(1981.25,96.9),(1981.4,96.8),(1981.55,96.6),(1981.7,96.5),(1981.8,96.7),(1982.0,97.3),(1982.15,97.8),(1982.3,98.4),(1982.45,98.6),(1982.55,98.4),(1982.7,97.5),(1982.85,97.3),(1983.0,97.5),(1983.15,98.5),(1983.3,99.3),(1983.45,99.2),(1983.6,99.3),(1983.75,99.2),(1983.9,99.5),(1984.05,99.9),(1984.2,99.5),(1984.35,99.2),(1984.5,98.9),(1984.65,99.4),(1984.8,99.5),(1984.95,99.8),(1985.05,99.2),(1985.2,98.5),(1985.35,98.4),(1985.5,98.7),(1985.65,98.9),(1985.8,99.2),(1985.95,99.5),(1986.1,100.2),(1986.25,100.6),(1986.4,100.9),(1986.55,100.8),(1986.7,100.7),(1986.85,101.1),(1987.0,101.2),(1987.15,101.0),(1987.3,100.7),(1987.45,100.6),(1987.6,100.6),(1987.75,100.2),(1987.9,100.4),(1988.05,100.2),(1988.2,100.7),(1988.35,101.1),(1988.5,101.2),(1988.65,101.1),(1988.8,101.6),(1988.95,101.8),(1989.1,101.6),(1989.25,101.5),(1989.4,101.7),(1989.55,101.9),(1989.7,102.1),(1989.85,101.7),(1990.0,101.6),(1990.15,101.7),(1990.3,101.2),(1990.4,101.2),(1990.55,100.9),(1990.7,100.2),(1990.85,99.4),(1991.0,99.2),(1991.15,98.9),(1991.3,99.2),(1991.45,98.5),(1991.6,99.2),(1991.75,98.9),(1991.9,98.7),(1992.05,98.9),(1992.2,98.8),(1992.35,98.5),(1992.5,98.2),(1992.65,97.5),(1992.75,96.8),(1992.9,96.0),(1993.0,95.5),(1993.2,95.4),(1993.35,95.3),(1993.5,95.6),(1993.65,95.5),
           (1993.8,95.6),(1994.0,96.2),(1994.2,97.5),(1994.4,98.9),(1994.6,100.4),(1994.8,101.2),(1994.93,101.4),(1995.13,101.4),(1995.3,101.1),(1995.5,101.3),(1995.8,100.6),(1996.0,100.1),(1996.2,99.4),(1996.33,98.9),(1996.5,98.7),(1996.7,98.9),(1996.9,99.2),(1997.1,99.5),(1997.3,99.5),(1997.5,99.8),(1997.65,100.7),(1997.8,101.2),(1998.0,101.6),(1998.13,102.1),(1998.3,102.2),(1998.5,102.3),(1998.65,101.8),(1998.8,102.2),(1998.93,102.4),(1999.13,102.7),(1999.3,102.1),(1999.4,101.7),(1999.6,101.7),(1999.8,102.3),(2000.0,102.9),(2000.2,103.4),(2000.4,103.4),(2000.6,103.4),(2000.73,103.4),(2000.85,103.4),(2001.0,103.6),(2001.13,103.6),(2001.25,103.4),(2001.4,102.4),(2001.6,101.2),(2001.8,100.6),(2001.93,100.2),(2002.1,100.7),(2002.3,101.1),(2002.5,100.9),(2002.65,100.7),(2002.8,100.6),(2002.93,99.5),(2003.1,98.9),(2003.25,98.4),(2003.4,98.7),(2003.6,99.0),(2003.8,99.3),(2004.0,99.4),(2004.2,99.5),(2004.4,99.7),(2004.6,99.8),(2004.85,99.9),(2005.05,100.2),(2005.25,100.1),(2005.5,99.5),(2005.7,100.1),(2005.93,100.4),(2006.1,100.7),(2006.3,100.9),(2006.5,101.2),(2006.7,101.2),(2006.9,101.4),(2007.1,101.7),(2007.3,102.3),(2007.53,103.1),(2007.7,102.4),(2007.9,101.6),(2008.1,100.6),(2008.3,100.1),(2008.45,99.2),(2008.6,97.8),(2008.8,96.2),(2009.0,94.6),(2009.13,93.9),(2009.33,94.8),(2009.53,96.3),(2009.7,97.7),(2009.85,98.5),(2010.0,98.9)]

EU_BUS = [(1985.1,99.5),(1985.25,99.5),(1985.35,99.9),(1985.5,100.1),(1985.65,100.3),(1985.8,100.6),(1985.95,100.1),(1986.1,99.6),(1986.25,99.5),(1986.4,99.4),(1986.55,99.5),(1986.7,99.7),(1986.85,99.5),(1987.0,99.6),(1987.15,99.5),(1987.3,100.1),(1987.45,100.7),(1987.6,101.4),(1987.75,101.6),(1987.9,101.7),(1988.05,102.3),(1988.2,102.4),(1988.35,102.8),(1988.5,103.1),(1988.65,103.6),(1988.8,103.7),(1988.95,103.7),(1989.1,103.6),(1989.25,103.3),(1989.35,103.4),(1989.5,103.3),(1989.65,102.9),(1989.75,102.6),(1989.9,102.5),(1990.0,102.4),(1990.2,102.3),(1990.3,102.1),(1990.45,101.7),(1990.55,101.1),(1990.7,100.2),(1990.85,99.4),(1991.0,98.7),(1991.15,98.2),(1991.3,97.8),(1991.45,97.8),(1991.6,97.8),(1991.75,97.8),(1991.9,97.8),(1992.05,97.8),(1992.2,98.0),(1992.35,98.2),(1992.5,97.8),(1992.65,97.2),(1992.8,95.8),(1992.95,94.8),(1993.1,94.5),(1993.25,94.6),(1993.4,94.7),(1993.55,94.6),(1993.7,95.2),
          (1993.9,96.3),(1994.1,97.8),(1994.3,99.5),(1994.5,101.2),(1994.7,102.6),(1994.85,103.6),(1995.0,103.8),(1995.13,103.6),(1995.3,102.8),(1995.5,101.9),(1995.7,101.2),(1995.85,100.6),(1996.0,99.5),(1996.2,98.5),(1996.35,97.8),(1996.5,97.8),(1996.7,98.5),(1996.9,99.0),(1997.1,99.5),(1997.25,100.2),(1997.4,100.9),(1997.6,102.1),(1997.73,102.4),(1997.93,102.4),(1998.13,102.3),(1998.3,102.4),(1998.45,102.1),(1998.6,101.2),(1998.73,100.2),(1998.9,99.2),(1999.05,98.9),(1999.25,98.5),(1999.45,98.9),(1999.65,99.7),(1999.85,100.9),(2000.05,102.1),(2000.25,102.9),(2000.45,103.3),(2000.65,102.9),(2000.85,102.6),(2001.05,101.9),(2001.25,100.9),(2001.45,100.1),(2001.6,99.2),(2001.73,98.2),(2001.9,97.0),(2002.05,97.7),(2002.2,98.5),(2002.33,99.2),(2002.45,99.5),(2002.6,98.9),(2002.73,99.4),(2002.9,99.2),(2003.05,98.9),(2003.25,98.7),(2003.4,98.9),(2003.5,98.5),(2003.65,99.2),(2003.85,99.7),(2004.05,100.2),(2004.25,100.9),(2004.4,101.1),(2004.6,101.2),(2004.73,101.4),(2004.9,101.2),(2005.1,100.7),(2005.25,100.2),(2005.45,99.4),(2005.65,99.5),(2005.85,100.1),(2006.05,100.6),(2006.25,101.6),(2006.45,102.4),(2006.65,102.6),(2006.85,103.1),(2007.05,103.3),(2007.25,103.6),(2007.4,103.8),(2007.53,103.6),(2007.7,103.1),(2007.9,102.6),(2008.1,102.3),(2008.25,101.9),(2008.4,101.2),(2008.6,99.9),(2008.73,98.2),(2008.9,95.5),(2009.05,92.8),(2009.2,91.2),(2009.33,90.7),(2009.5,91.7),(2009.7,93.6),(2009.85,95.1),(2010.0,96.3)]

TOT_CONS = [(1978.05,101.2),(1978.2,101.0),(1978.35,100.7),(1978.5,100.8),(1978.65,100.7),(1978.8,100.6),(1978.95,99.5),(1979.05,99.4),(1979.15,99.5),(1979.3,99.0),(1979.4,98.5),(1979.55,98.0),(1979.7,97.8),(1979.85,97.3),(1980.0,97.1),(1980.1,96.5),(1980.25,95.5),(1980.35,95.6),(1980.45,95.8),(1980.6,96.8),(1980.75,97.7),(1980.85,97.8),(1981.0,97.0),(1981.15,96.5),(1981.25,96.3),(1981.35,96.8),(1981.5,97.0),(1981.65,96.8),(1981.75,96.5),(1981.9,95.8),(1982.0,96.3),(1982.15,96.5),(1982.3,96.3),(1982.4,96.8),(1982.5,97.3),(1982.6,97.2),(1982.75,97.3),(1982.9,97.4),(1983.05,97.7),(1983.2,98.9),(1983.35,100.2),(1983.5,100.5),(1983.65,100.4),(1983.8,100.3),(1983.95,101.2),(1984.1,101.7),(1984.25,101.2),(1984.4,101.1),(1984.55,101.4),(1984.7,101.6),(1984.8,101.4),(1984.95,101.0),(1985.1,100.7),(1985.25,100.7),(1985.4,100.8),(1985.55,100.7),(1985.7,100.7),(1985.85,101.0),(1986.0,101.4),(1986.15,101.6),(1986.3,101.7),(1986.45,101.6),(1986.55,101.2),(1986.7,101.0),(1986.85,100.9),(1987.0,100.6),(1987.15,100.6),(1987.3,100.7),(1987.45,101.2),(1987.6,101.5),(1987.75,101.5),(1987.85,100.7),(1988.0,101.0),(1988.15,101.4),(1988.3,101.7),(1988.45,101.9),(1988.6,102.1),(1988.75,102.3),(1988.9,102.3),(1989.0,102.4),(1989.15,101.9),(1989.3,101.4),(1989.45,101.5),(1989.6,101.9),(1989.75,101.9),(1989.9,101.7),(1990.0,101.9),(1990.15,101.5),(1990.3,101.2),(1990.45,100.9),(1990.6,100.1),(1990.75,98.9),(1990.9,98.0),(1991.05,98.0),(1991.2,98.9),(1991.3,99.5),(1991.45,99.7),(1991.6,98.9),(1991.75,98.4),(1991.9,98.7),(1992.05,97.8),(1992.2,98.5),(1992.35,98.9),(1992.5,98.5),(1992.65,97.6),(1992.8,97.3),(1992.95,97.5),(1993.1,97.8),(1993.25,97.7),(1993.4,97.3),(1993.55,97.0),(1993.7,97.0),
            (1993.9,97.5),(1994.06,98.4),(1994.2,99.4),(1994.36,100.2),(1994.5,100.9),(1994.66,101.4),(1994.8,101.5),(1994.92,101.4),(1995.06,101.2),(1995.2,100.7),(1995.36,100.7),(1995.52,101.1),(1995.66,100.7),(1995.8,100.2),(1995.96,100.1),(1996.12,100.2),(1996.26,100.1),(1996.4,100.1),(1996.56,100.2),(1996.72,100.4),(1996.86,100.6),(1997.0,100.7),(1997.16,100.9),(1997.32,101.4),(1997.46,101.6),(1997.6,101.9),(1997.72,102.0),(1997.86,101.7),(1998.0,101.5),(1998.16,102.0),(1998.32,102.4),(1998.46,101.9),(1998.6,101.5),(1998.76,101.1),(1998.92,101.4),(1999.06,102.0),(1999.2,102.3),(1999.32,102.1),(1999.46,102.1),(1999.6,102.4),(1999.76,102.6),(1999.92,102.9),(2000.06,103.3),(2000.2,103.4),(2000.36,103.3),(2000.52,103.3),(2000.66,103.2),(2000.8,102.9),(2000.92,102.4),(2001.06,102.1),(2001.2,101.2),(2001.32,101.1),(2001.46,101.2),(2001.6,100.6),(2001.72,99.9),(2001.86,99.2),(2002.0,99.9),(2002.16,100.4),(2002.32,100.9),(2002.46,100.9),(2002.6,100.4),(2002.76,99.9),(2002.92,99.4),(2003.06,98.9),(2003.2,98.2),(2003.32,98.4),(2003.46,98.9),(2003.6,99.2),(2003.76,99.5),(2003.92,99.9),(2004.06,100.2),(2004.16,100.7),(2004.32,100.6),(2004.46,100.6),(2004.6,100.7),(2004.76,100.6),(2004.92,100.7),(2005.06,100.9),(2005.2,100.9),(2005.36,100.7),(2005.52,100.9),(2005.66,101.1),(2005.76,99.7),(2005.86,99.7),(2005.96,100.9),(2006.12,101.2),(2006.26,101.4),(2006.4,101.4),(2006.56,100.9),(2006.72,100.7),(2006.86,101.1),(2007.0,101.4),(2007.16,101.6),(2007.32,101.6),(2007.46,101.5),(2007.6,101.5),(2007.76,101.2),(2007.92,100.6),(2008.06,99.7),(2008.2,98.9),(2008.36,97.5),(2008.52,95.8),(2008.66,95.6),(2008.8,94.6),(2008.96,93.4),(2009.12,93.0),(2009.26,93.2),(2009.4,94.6),(2009.56,96.3),(2009.72,97.5),(2009.86,98.0),(2010.0,98.1)]

TOT_BUS = [(1984.95,99.7),(1985.1,99.5),(1985.2,99.2),(1985.35,99.3),(1985.5,99.4),(1985.65,99.9),(1985.75,100.0),(1985.9,99.6),(1986.05,99.4),(1986.2,99.2),(1986.35,99.2),(1986.5,98.8),(1986.6,99.2),(1986.75,99.1),(1986.9,99.5),(1987.05,100.1),(1987.2,100.7),(1987.35,101.2),(1987.5,101.9),(1987.65,102.0),(1987.8,102.1),(1987.95,101.7),(1988.1,101.9),(1988.25,102.4),(1988.4,102.9),(1988.55,102.7),(1988.7,102.9),(1988.85,102.8),(1988.95,102.6),(1989.1,102.4),(1989.2,102.1),(1989.35,101.6),(1989.5,101.2),(1989.65,101.0),(1989.8,101.0),(1989.95,101.2),(1990.1,101.4),(1990.25,101.3),(1990.4,101.2),(1990.5,100.4),(1990.65,99.2),(1990.8,98.2),(1990.95,98.0),(1991.1,98.2),(1991.2,98.9),(1991.35,99.5),(1991.5,99.9),(1991.6,99.7),(1991.75,99.4),(1991.9,98.9),(1992.05,98.5),(1992.2,99.2),(1992.35,99.4),(1992.5,99.0),(1992.6,98.5),(1992.75,97.6),(1992.9,97.5),(1993.05,97.7),(1993.2,97.3),(1993.35,97.0),(1993.5,96.8),(1993.65,97.0),
           (1993.8,97.5),(1993.92,98.2),(1994.06,99.0),(1994.2,99.9),(1994.36,100.6),(1994.52,101.2),(1994.66,101.7),(1994.8,102.0),(1994.92,101.7),(1995.06,101.2),(1995.2,100.2),(1995.32,99.7),(1995.46,99.5),(1995.6,98.9),(1995.76,98.4),(1995.92,98.0),(1996.06,98.2),(1996.2,98.5),(1996.36,98.9),(1996.52,99.2),(1996.66,99.4),(1996.8,99.9),(1996.92,100.4),(1997.06,100.6),(1997.2,100.9),(1997.36,101.2),(1997.52,101.7),(1997.66,101.7),(1997.8,101.6),(1997.96,101.4),(1998.12,101.1),(1998.26,100.6),(1998.4,99.9),(1998.56,99.4),(1998.72,98.7),(1998.86,98.2),(1999.0,98.5),(1999.16,98.9),(1999.32,99.2),(1999.46,99.5),(1999.6,99.9),(1999.76,100.6),(1999.92,101.1),(2000.06,101.3),(2000.2,101.4),(2000.36,101.2),(2000.52,100.9),(2000.66,100.7),(2000.8,100.4),(2000.96,99.4),(2001.12,98.9),(2001.26,98.4),(2001.4,98.0),(2001.56,97.8),(2001.72,96.8),(2001.86,96.3),(2002.0,97.2),(2002.12,98.2),(2002.26,99.2),(2002.4,99.4),(2002.56,98.9),(2002.72,98.9),(2002.86,99.0),(2003.0,99.2),(2003.16,98.5),(2003.32,98.2),(2003.46,98.9),(2003.6,99.5),(2003.76,100.6),(2003.92,101.6),(2004.06,101.7),(2004.2,102.3),(2004.32,102.3),(2004.46,102.1),(2004.6,101.7),(2004.76,101.6),(2004.92,101.4),(2005.06,101.2),(2005.2,100.6),(2005.36,99.9),(2005.52,100.2),(2005.66,101.0),(2005.8,101.2),(2005.96,100.7),(2006.12,101.4),(2006.26,101.6),(2006.4,101.6),(2006.56,101.7),(2006.72,101.6),(2006.86,101.4),(2007.0,101.7),(2007.16,101.9),(2007.32,102.1),(2007.46,101.9),(2007.6,101.6),(2007.76,101.1),(2007.92,100.7),(2008.06,100.4),(2008.2,100.2),(2008.36,100.1),(2008.52,99.5),(2008.66,98.5),(2008.8,96.8),(2008.92,95.1),(2009.06,93.8),(2009.16,92.7),(2009.26,92.7),(2009.4,94.1),(2009.56,95.8),(2009.72,97.3),(2009.86,98.0),(2010.0,98.1)]

DATA = {
    "United States": (US_CONS, US_BUS),
    "United Kingdom": (UK_CONS, UK_BUS),
    "Japan": (JP_CONS, JP_BUS),
    "Germany": (DE_CONS, DE_BUS),
    "OECD Europe": (EU_CONS, EU_BUS),
    "OECD total": (TOT_CONS, TOT_BUS),
}

# ---------------- style ----------------
FONT = "Liberation Sans"
W, H = 529, 392
COL_GAP, ROW_GAP = 104, 150
BG = "#e4e5e7"
BAND = "#c4c5c7"
DARK = "#08589b"
CYAN = "#0ba7cc"
AXIS = "#3a3a3a"
TXT = "#222222"

XS = alt.Scale(domain=[1978, 2010], nice=False, zero=False)
YS = alt.Scale(domain=[90, 110], nice=False, zero=False)
XAX = alt.Axis(values=X_TICKS, labelExpr="'Jan-' + datum.value", labelAngle=-45,
               labelAlign="right", labelBaseline="middle", labelPadding=11,
               ticks=False, grid=False, domain=True, zindex=1, labelOverlap=False,
               labelFont=FONT, labelFontSize=14, labelColor=TXT, title=None)
YAX = alt.Axis(values=Y_TICKS, ticks=False, grid=False, domain=True, labelPadding=16, zindex=1,
               labelFont=FONT, labelFontSize=16, labelColor=TXT, title=None)


def xe(field):
    return alt.X(field, scale=XS, axis=XAX, title=None)


def ye(field):
    return alt.Y(field, scale=YS, axis=YAX, title=None)


def one_row():
    return pd.DataFrame({"k": [0]})


def panel(name, with_legend=False):
    cons, bus = DATA[name]
    bands = alt.Chart(pd.DataFrame({"s": SLOW_START, "e": SLOW_END})).mark_rect(color=BAND).encode(
        x=xe("s:Q"), x2="e:Q", y=alt.value(0), y2=alt.value(H))
    vgrid = alt.Chart(pd.DataFrame({"t": X_TICKS[1:]})).mark_rule(color="white", strokeWidth=2).encode(
        x=xe("t:Q"))
    hgrid = alt.Chart(pd.DataFrame({"y": Y_GRID})).mark_rule(color="white", strokeWidth=2).encode(
        y=ye("y:Q"))
    xticks = alt.Chart(pd.DataFrame({"t": X_TICKS})).mark_rule(color=AXIS, strokeWidth=1.5).encode(
        x=xe("t:Q"), y=alt.value(H), y2=alt.value(H - 7))
    yticks = alt.Chart(pd.DataFrame({"y": Y_TICKS})).mark_rule(color=AXIS, strokeWidth=1.5).encode(
        y=ye("y:Q"), x=alt.value(0), x2=alt.value(7))
    l_cons = alt.Chart(pd.DataFrame(cons, columns=["t", "v"])).mark_line(color=DARK, strokeWidth=2.8).encode(
        x=xe("t:Q"), y=ye("v:Q"))
    l_bus = alt.Chart(pd.DataFrame(bus, columns=["t", "v"])).mark_line(color=CYAN, strokeWidth=2.8).encode(
        x=xe("t:Q"), y=ye("v:Q"))
    title = alt.Chart(one_row()).mark_text(text=name, font=FONT, fontSize=17, fontWeight="bold",
                                           color=TXT, align="center", baseline="middle").encode(
        x=alt.value(242), y=alt.value(-22))
    layers = [bands, vgrid, hgrid, xticks, yticks, l_cons, l_bus, title]
    if with_legend:
        leg_bg = alt.Chart(one_row()).mark_rect(color=BG).encode(
            x=alt.value(0), x2=alt.value(2 * W + COL_GAP), y=alt.value(-73), y2=alt.value(-45))
        leg_sw = alt.Chart(one_row()).mark_rect(color=BAND).encode(
            x=alt.value(140), x2=alt.value(169), y=alt.value(-66), y2=alt.value(-52))
        leg_l1 = alt.Chart(one_row()).mark_rule(color=DARK, strokeWidth=3).encode(
            x=alt.value(482), x2=alt.value(547), y=alt.value(-59))
        leg_l2 = alt.Chart(one_row()).mark_rule(color=CYAN, strokeWidth=3).encode(
            x=alt.value(852), x2=alt.value(917), y=alt.value(-59))
        texts = []
        for label, xpos in [("Cyclical slowdowns", 186), (SERIES[0], 565), (SERIES[1], 932)]:
            texts.append(alt.Chart(one_row()).mark_text(text=label, font=FONT, fontSize=17, color="#333333",
                                                        align="left", baseline="middle").encode(
                x=alt.value(xpos), y=alt.value(-59)))
        layers += [leg_bg, leg_sw, leg_l1, leg_l2] + texts
    return alt.layer(*layers).properties(width=W, height=H)


panels = [panel(n, with_legend=(i == 0)) for i, n in enumerate(PANELS)]

chart = alt.concat(*panels, columns=2, spacing={"row": ROW_GAP, "column": COL_GAP}).properties(
    bounds="flush",
    padding={"left": 0, "top": -2, "right": 0, "bottom": 0},
).configure_view(fill=BG, stroke=None).configure_axis(
    domainColor=AXIS, domainWidth=1.5
)

chart.save("out.html", embed_options={"renderer": "svg", "actions": False})
